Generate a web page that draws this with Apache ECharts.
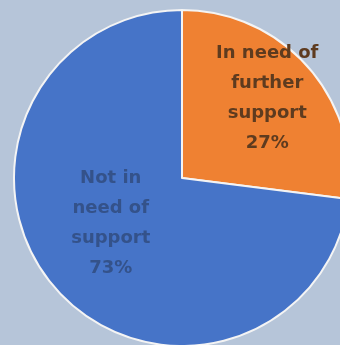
<!DOCTYPE html>
<html><head><meta charset="utf-8">
<script src="https://cdn.jsdelivr.net/npm/echarts@6/dist/echarts.min.js"></script>
<style>html,body{margin:0;padding:0;background:#b6c5d9}#c{width:340px;height:345px}</style>
</head><body><div id="c"></div>
<script>
const categories = ["In need of\nfurther\nsupport", "Not in\nneed of\nsupport"];
const values = [27, 73];
const colors = ["#ef8132", "#4674c8"];
const labelColors = ["#5e3b1f", "#34528a"];
const labelOffsets = [[20, -22], [-6, -12]];

const chart = echarts.init(document.getElementById('c'));
chart.setOption({
  backgroundColor: '#b6c5d9',
  animation: false,
  series: [{
    type: 'pie',
    center: [182, 178],
    radius: 168,
    startAngle: 90,
    clockwise: true,
    itemStyle: { borderColor: '#f4f4f4', borderWidth: 2 },
    label: {
      position: 'inside',
      fontFamily: 'DejaVu Sans',
      fontWeight: 'bold',
      fontSize: 18,
      lineHeight: 30,
      align: 'center',
      formatter: p => p.name + '\n' + p.value + '%'
    },
    labelLine: { show: false },
    data: categories.map((c, i) => ({
      name: c, value: values[i],
      itemStyle: { color: colors[i] },
      label: { color: labelColors[i], offset: labelOffsets[i] }
    }))
  }]
});
</script></body></html>
